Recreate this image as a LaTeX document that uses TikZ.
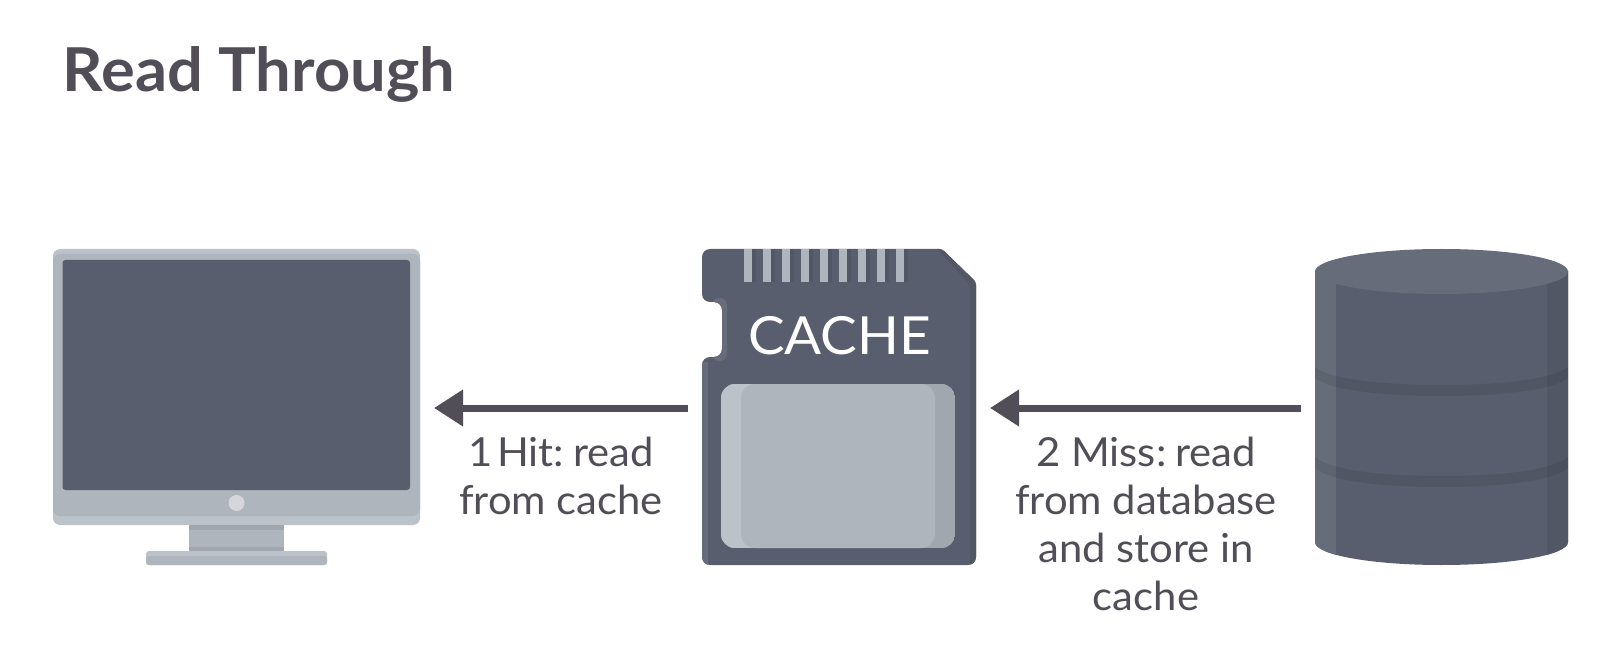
\documentclass[tikz,border=0pt]{standalone}
\usepackage{fontspec}
\setmainfont{Lato}
\newfontfamily\widelato[FakeStretch=1.045]{Lato}
\usetikzlibrary{arrows.meta}
\definecolor{ink}{HTML}{524E57}
\definecolor{slate}{HTML}{585E6D}
\definecolor{slateL}{HTML}{666C7A}
\definecolor{slateD}{HTML}{515765}
\definecolor{silver}{HTML}{AFB5BD}
\definecolor{silverL}{HTML}{BBC2C9}
\definecolor{silverD}{HTML}{A1A7AF}
\definecolor{btn}{HTML}{D4D6DC}
\tikzset{
  anchorbox/.style={rectangle,inner sep=0pt,outer sep=0pt,minimum height=316pt},
  flow/.style={draw=ink,line width=7pt,-{Triangle[length=29pt,width=35pt]},shorten >=14pt,shorten <=14pt},
  lbl/.style={text=ink,align=center,anchor=north,inner sep=0pt,font=\widelato\fontsize{40}{48}\selectfont},
  ttl/.style={text=ink,anchor=base west,inner sep=0pt,font=\widelato\fontsize{60.5}{72}\selectfont\bfseries},
}
\begin{document}
\begin{tikzpicture}[x=1pt,y=-1pt]
\useasboundingbox (0,0) rectangle (1620,660);
\fill[white] (0,0) rectangle (1620,660);
\node[ttl] (title) at (62.5,92) {Read Through};
% anchors
\node[anchorbox,minimum width=367pt] (monitor) at (236.5,407) {};
\node[anchorbox,minimum width=274pt] (card) at (839,407) {};
\node[anchorbox,minimum width=253pt] (db) at (1441.5,407) {};
% monitor
\fill[silverL,rounded corners=7pt] (53,249) rectangle (420,525);
\fill[silver,rounded corners=7pt] (53,254) rectangle (420,516);
\fill[slate,rounded corners=3pt] (62.5,260) rectangle (410,490);
\fill[btn] (236.5,503) circle [radius=8];
\fill[silver] (189,525) rectangle (284,551);
\fill[silverD] (189,525) rectangle (284,530);
\fill[silverD] (189,547) rectangle (284,551);
\fill[silverL,rounded corners=3pt] (146,551) rectangle (327,565);
\fill[silver,rounded corners=3pt] (146,556) rectangle (327,565);
% sd card
\begin{scope}
\path[clip,rounded corners=8pt] (702,249) -- (702,302) -- (722,302) -- (722,357) -- (702,357) -- (702,565) -- (976,565) [rounded corners=3pt] -- (976,282) -- (942,249) [rounded corners=8pt] -- cycle;
\fill[slate] (690,240) rectangle (990,575);
\fill[slateL,rounded corners=7pt] (712,298) rectangle (727,361);
\fill[slateL] (702,362) rectangle (708,570);
\fill[slateD] (934,245) -- (970,285) -- (970,570) -- (980,570) -- (980,245) -- cycle;
\foreach \i in {0,...,8} {
  \fill[slateD] ({744+19*\i},249) rectangle ({756+19*\i},282);
  \fill[silver] ({744+19*\i},249) rectangle ({752+19*\i},282);
}
\end{scope}
\begin{scope}
\path[clip,rounded corners=14pt] (721,384) rectangle (955,548);
\fill[silver] (721,384) rectangle (955,548);
\fill[silverL] (721,384) rectangle (755,548);
\fill[silverD] (921,384) rectangle (955,548);
\fill[silver,rounded corners=14pt] (741,384) rectangle (935,548);
\end{scope}
\node[text=white,inner sep=0pt,anchor=base,font=\widelato\fontsize{52.5}{60}\selectfont] (cachetext) at (839.5,355) {CACHE};
% database
\begin{scope}
\path[clip] (1315,271) -- (1315,542) .. controls (1315,555) and (1372,565) .. (1441.5,565) .. controls (1511,565) and (1568,555) .. (1568,542) -- (1568,271) -- cycle;
\fill[slate] (1310,245) rectangle (1572,570);
\fill[slateL] (1310,245) rectangle (1336,570);
\fill[slateD] (1547,245) rectangle (1572,570);
\fill[black,opacity=.08] (1315,367) .. controls (1330,379) and (1380,385) .. (1441.5,385) .. controls (1503,385) and (1553,379) .. (1568,367) -- (1568,378) .. controls (1553,390) and (1503,396) .. (1441.5,396) .. controls (1380,396) and (1330,390) .. (1315,378) -- cycle;
\fill[black,opacity=.08] (1315,457) .. controls (1330,470) and (1380,476) .. (1441.5,476) .. controls (1503,476) and (1553,470) .. (1568,457) -- (1568,468) .. controls (1553,481) and (1503,487) .. (1441.5,487) .. controls (1380,487) and (1330,481) .. (1315,468) -- cycle;
\end{scope}
\fill[slateL] (1441.5,271.5) ellipse [x radius=126.5, y radius=22.5];
% connectors
\draw[flow] ([yshift=-1pt]card.west) -- ([yshift=-1pt]monitor.east);
\draw[flow] ([yshift=-1pt]db.west) -- ([yshift=-1pt]card.east);
% labels
\node[lbl] (hit) at (561,437) {1\kern-6pt\ Hit:\kern-2pt\ read\\from cache};
\node[lbl] (miss) at (1146,437) {2 Miss:\kern-2pt\ read\\from database\\and store in\\cache};
\end{tikzpicture}
\end{document}
